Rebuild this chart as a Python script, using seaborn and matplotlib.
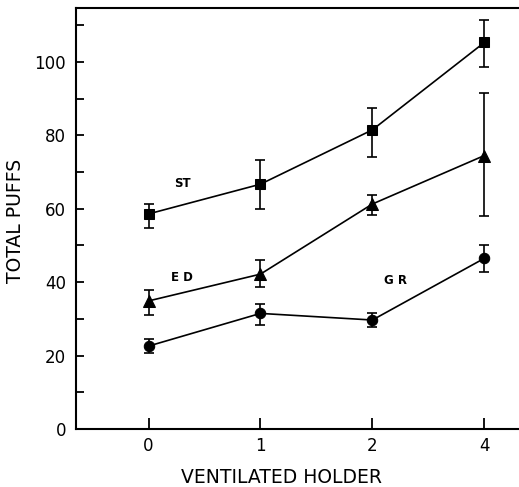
import numpy as np
import pandas as pd
import matplotlib
matplotlib.use("Agg")
import matplotlib.pyplot as plt
import seaborn as sns

# Ventilated holder levels (categorical, equally spaced on the axis)
holder = ["0", "1", "2", "4"]

# Mean total puffs per group, with lower/upper error bar ends
st_mean = [58.6, 66.7, 81.5, 105.3]
st_lo = [54.9, 60.0, 74.2, 98.5]
st_hi = [61.2, 73.3, 87.4, 111.3]

ed_mean = [34.9, 42.2, 61.3, 74.5]
ed_lo = [31.0, 38.8, 58.3, 58.0]
ed_hi = [37.8, 46.0, 63.8, 91.5]

gr_mean = [22.6, 31.5, 29.7, 46.5]
gr_lo = [20.6, 28.3, 27.9, 42.9]
gr_hi = [24.6, 34.0, 31.5, 50.1]

groups = ["ST", "ED", "GR"]
means = {"ST": st_mean, "ED": ed_mean, "GR": gr_mean}
lows = {"ST": st_lo, "ED": ed_lo, "GR": gr_lo}
highs = {"ST": st_hi, "ED": ed_hi, "GR": gr_hi}

# Where each group's name is written inside the plot
label_pos = {"ST": (0.30, 67.0), "ED": (0.30, 41.4), "GR": (2.21, 40.6)}

rows = []
for g in groups:
    for i, h in enumerate(holder):
        rows.append({"group": g, "pos": i, "holder": h, "puffs": means[g][i],
                     "lo": lows[g][i], "hi": highs[g][i]})
df = pd.DataFrame(rows)

sns.set_style("white")
plt.rcParams["font.family"] = ["DejaVu Sans"]
plt.rcParams["text.color"] = "black"
plt.rcParams["axes.labelcolor"] = "black"

fig = plt.figure(figsize=(5.19, 4.87), dpi=100)
ax = fig.add_axes([0.146, 0.119, 0.854, 0.8646])

markers = {"ST": "s", "ED": "^", "GR": "o"}
sizes = {"ST": 7, "ED": 8, "GR": 7.5}

for g in groups:
    sub = df[df["group"] == g]
    yerr = np.vstack([sub["puffs"] - sub["lo"], sub["hi"] - sub["puffs"]])
    ax.errorbar(sub["pos"], sub["puffs"], yerr=yerr, fmt="none",
                ecolor="black", elinewidth=1.2, capsize=3.6, capthick=1.2,
                zorder=2)

sns.lineplot(data=df, x="pos", y="puffs", hue="group", style="group",
             markers=markers, dashes=False, palette=["black"] * 3,
             linewidth=1.2, markersize=8, markeredgecolor="black",
             legend=False, ax=ax, zorder=3)

for line, g in zip(ax.get_lines()[-3:], groups):
    line.set_markersize(sizes[g])

for g in groups:
    x, y = label_pos[g]
    ax.text(x, y, " ".join(g) if g != "ST" else g, ha="center", va="center",
            fontsize=8.5, fontweight="bold", color="black")

ax.set_xlim(-0.65, 3.31)
ax.set_ylim(0, 114.7)
ax.set_xticks(range(len(holder)))
ax.set_xticklabels(holder)
ax.set_yticks(np.arange(0, 111, 10))
ax.set_yticklabels([str(v) if v % 20 == 0 else "" for v in range(0, 111, 10)])

ax.tick_params(axis="x", direction="in", length=8, width=1.3, pad=6,
               labelsize=12, bottom=True, top=False, colors="black")
ax.tick_params(axis="y", direction="in", length=6, width=1.3, pad=7,
               labelsize=12, left=True, right=False, colors="black")

ax.set_xlabel("VENTILATED HOLDER", fontsize=13.5, color="black")
ax.set_ylabel("TOTAL PUFFS", fontsize=13.5, color="black")
ax.xaxis.label.set_va("center")
ax.yaxis.label.set_va("center")
ax.xaxis.set_label_coords(0.465, -0.114)
ax.yaxis.set_label_coords(-0.136, 0.494)

for side in ["left", "bottom", "top"]:
    ax.spines[side].set_visible(True)
    ax.spines[side].set_color("black")
    ax.spines[side].set_linewidth(1.5)
ax.spines["right"].set_visible(False)

fig.savefig("out.png", dpi=100)
